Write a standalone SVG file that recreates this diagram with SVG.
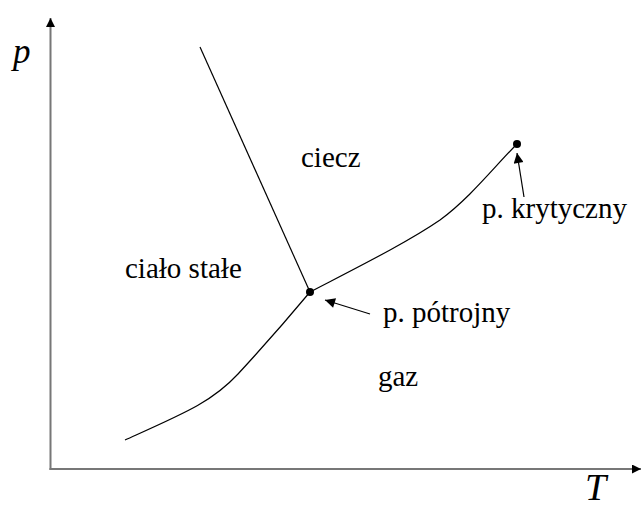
<svg xmlns="http://www.w3.org/2000/svg" width="642" height="512" viewBox="0 0 642 512">
<defs>
<style>
.lbl{font-family:"Liberation Serif","Times New Roman",serif;font-size:29px;fill:#000}
.ax{font-family:"Liberation Serif","Times New Roman",serif;font-style:italic;fill:#000}
.axis{stroke:#777;stroke-width:2;fill:none}
.curve{stroke:#000;stroke-width:1.2;fill:none}
.ptr{stroke:#000;stroke-width:1.2;fill:none}
</style>
<marker id="ah" viewBox="0 0 10 10" refX="10" refY="5" markerWidth="16" markerHeight="9" markerUnits="userSpaceOnUse" orient="auto">
<path d="M0,0 L10,5 L0,10 z" fill="#000"/>
</marker>
<marker id="pa" viewBox="0 0 10 10" refX="10" refY="5" markerWidth="17" markerHeight="10" markerUnits="userSpaceOnUse" orient="auto">
<path d="M0,0 L10,5 L0,10 z" fill="#000"/>
</marker>
</defs>
<g id="axes">
<line class="axis" x1="50.5" y1="470" x2="50.5" y2="18" marker-end="url(#ah)"/>
<line class="axis" x1="49.5" y1="469" x2="641" y2="469" marker-end="url(#ah)"/>
<text class="ax" x="13" y="63" font-size="35">p</text>
<text class="ax" x="585" y="500" font-size="38">T</text>
</g>
<g id="connectors">
<path class="curve" d="M200,47 L310,292"/>
<path class="curve" d="M125,440 C185,413 212,402 238,374 C262,348 290,316 310,292"/>
<path class="curve" d="M310,292 C360,266 408,242 440,220 C470,198 495,166 517,144"/>
<line class="ptr" x1="370" y1="314" x2="325" y2="300" marker-end="url(#pa)"/>
<line class="ptr" x1="524" y1="197" x2="517" y2="153" marker-end="url(#pa)"/>
</g>
<g id="triple-point"><circle cx="310" cy="292" r="4" fill="#000"/></g>
<g id="critical-point"><circle cx="517" cy="144" r="4" fill="#000"/></g>
<g id="label-ciecz"><text class="lbl" x="301" y="167">ciecz</text></g>
<g id="label-cialo"><text class="lbl" x="125" y="278">ciało stałe</text></g>
<g id="label-gaz"><text class="lbl" x="378" y="386">gaz</text></g>
<g id="label-triple"><text class="lbl" x="383" y="322">p. pótrojny</text></g>
<g id="label-critical"><text class="lbl" x="482" y="218">p. krytyczny</text></g>
</svg>
